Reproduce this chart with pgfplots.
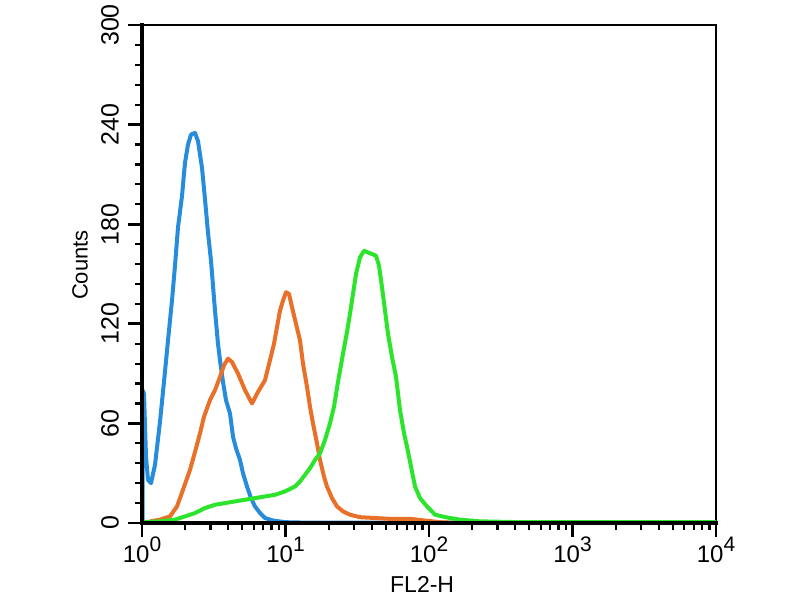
\documentclass[border=0pt]{standalone}
\usepackage{pgfplots}
\pgfplotsset{compat=1.18}
\usepackage{fontspec}
\setmainfont{Liberation Sans}
\definecolor{cblue}{RGB}{40,140,220}
\definecolor{corange}{RGB}{232,112,40}
\definecolor{cgreen}{RGB}{45,228,45}
\newcommand{\ep}[1]{10\raisebox{11pt}{\fontsize{21}{21}\selectfont #1}}
\begin{document}
\begin{tikzpicture}
\useasboundingbox (0,0) rectangle (800pt,600pt);
\begin{axis}[
 at={(142pt,77pt)}, anchor=south west,
 scale only axis, width=574pt, height=498pt,
 xmode=log, xmin=1, xmax=10000, ymin=0, ymax=300,
 xtick={1,10,100,1000,10000},
 xticklabels={\ep{0},\ep{1},\ep{2},\ep{3},\ep{4}},
 ytick={0,60,120,180,240,300},
 minor y tick num=4,
 tick align=outside, tick pos=left,
 major tick length=14pt, minor tick length=7pt,
 major tick style={line width=2.8pt,black},
 minor tick style={line width=2.2pt,black},
 axis line style={line width=1.2pt},
 /pgf/number format/assume math mode=true,
 xticklabel style={font=\fontsize{24}{24}\selectfont, anchor=north, inner sep=0pt},
 yticklabel style={font=\fontsize{25}{25}\selectfont, rotate=90, anchor=south, inner sep=0pt},
 xticklabel shift=0pt, yticklabel shift=9pt,
 xlabel={FL2-H}, ylabel={Counts},
 xlabel style={at={(axis description cs:0.488,-0.1225)}, anchor=center, inner sep=0pt, font=\fontsize{23}{23}\selectfont},
 ylabel style={at={(axis description cs:-0.108,0.518)}, anchor=center, inner sep=0pt, font=\fontsize{22}{22}\selectfont},
 after end axis/.code={\draw[line width=3.5pt, line cap=rect] (rel axis cs:0,1) -- (rel axis cs:0,0) -- (rel axis cs:1,0);},
 every axis plot/.append style={line width=4pt, line join=round, no marks},
]
\addplot[cblue] coordinates {(1.01,0)(1.01,80)(1.0326,78)(1.0663,40)(1.1011,26)(1.1554,24)(1.2319,35)(1.3349,61)(1.4233,85)(1.5177,110)(1.6183,134)(1.6981,155)(1.7818,178)(1.9000,197)(1.9937,217)(2.0921,228)(2.1953,234)(2.3407,235)(2.4561,230)(2.6189,214)(2.7481,195)(2.8836,175)(3.0258,158)(3.2264,128)(3.3856,108)(3.4959,98)(3.6684,85)(3.8492,74)(4.1043,66)(4.3069,52)(4.5193,45)(4.8187,38)(5.0562,30)(5.3915,22)(5.7487,15)(6.1300,10)(6.6420,6)(7.1969,3)(8.1826,1.5)(9.9204,0.5)(12.62,0.3)(20,0.2)(10000,0.2)};
\addplot[corange] coordinates {(1.1371,1)(1.3349,2)(1.5675,4)(1.7536,10)(1.9307,20)(2.1604,32)(2.3786,45)(2.5362,54)(2.7044,64)(2.9778,74)(3.2264,80)(3.4959,88)(3.7276,95)(3.9746,99)(4.2381,97)(4.6666,90)(5.2222,80)(5.8418,72)(6.4322,79)(7.1969,86)(7.7969,98)(8.3147,108)(8.7252,118)(9.1553,128)(9.6068,134)(10.081,139)(10.578,138)(11.100,130)(11.836,120)(12.620,110)(13.242,96)(14.120,82)(14.817,70)(15.547,60)(16.577,48)(17.395,38)(18.545,28)(19.459,22)(21.085,15)(22.847,10)(25.159,7)(28.149,5)(33.046,3.5)(42.049,3)(53.485,2.5)(73.742,2.5)(93.782,1.5)(119.33,0.5)(164.45,0)(10000,0)};
\addplot[cgreen] coordinates {(1,0.5)(1.3349,1)(1.6981,2)(1.9937,4)(2.3407,6)(2.7481,9)(3.2264,11)(3.7879,12)(4.4474,13)(5.2222,14)(6.1300,15)(7.1969,16)(8.4493,17)(9.9202,19)(11.648,22)(12.620,25)(13.674,29)(14.817,33)(16.054,38)(17.395,42)(18.845,50)(20.418,60)(21.772,70)(23.216,85)(25.159,102)(26.827,115)(28.149,126)(29.536,138)(30.992,150)(33.046,160)(35.240,164)(37.580,163)(40.075,162)(42.729,161)(44.835,155)(47.044,142)(49.362,128)(51.795,114)(55.231,100)(58.898,88)(62.809,68)(66.980,54)(70.280,46)(74.934,34)(79.910,22)(86.546,15)(96.842,10)(110.11,5)(123.22,4)(140.10,3)(164.45,2)(226.70,1)(430.62,0.5)(10000,0.5)};
\end{axis}
\end{tikzpicture}
\end{document}
